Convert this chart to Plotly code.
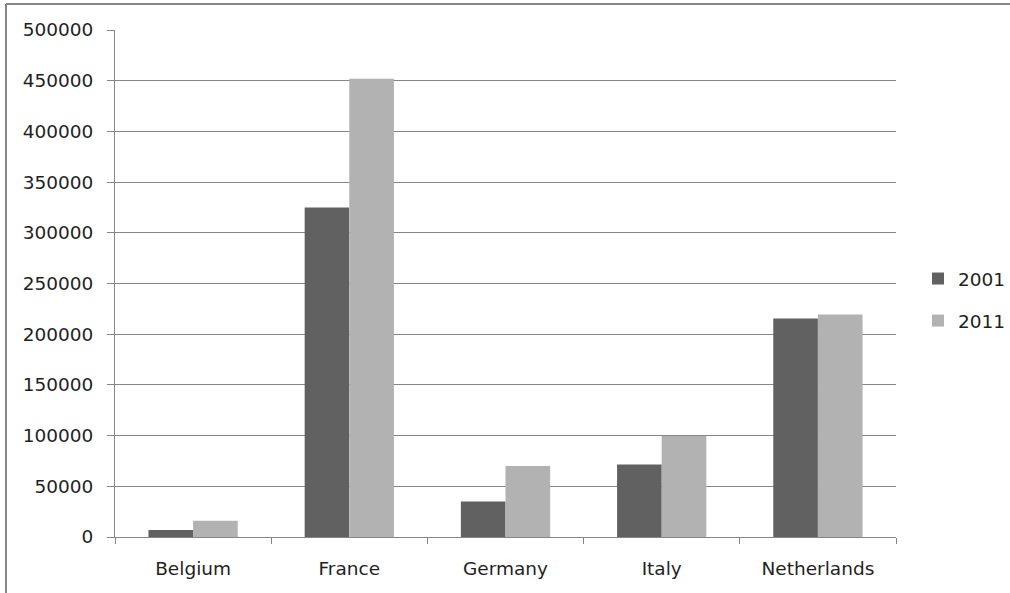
import plotly.graph_objects as go

categories = ["Belgium", "France", "Germany", "Italy", "Netherlands"]
series_names = ["2001", "2011"]
values_2001 = [7000, 325000, 35000, 71500, 215500]
values_2011 = [16000, 452000, 70000, 99500, 219500]
y_ticks = [0, 50000, 100000, 150000, 200000, 250000, 300000, 350000, 400000, 450000, 500000]

colors = ["#616161", "#b2b2b2"]
FONT = "DejaVu Sans"
FS = 18.5

fig = go.Figure()
for name, vals, col in zip(series_names, [values_2001, values_2011], colors):
    fig.add_trace(go.Bar(
        x=categories, y=vals, name=name, legendgroup=name,
        marker=dict(color=col, line=dict(width=0)),
    ))

W, H = 1010, 593
L, R, T, B = 115, 114, 30, 56
pw = W - L - R
ph = H - T - B

bx = (6 - L) / pw
by = (H - B - 4) / ph
border = dict(type="line", xref="paper", yref="paper",
              line=dict(color="#868686", width=2), layer="above")

fig.update_layout(
    width=W, height=H,
    margin=dict(l=L, r=R, t=T, b=B, autoexpand=False),
    paper_bgcolor="white", plot_bgcolor="white",
    barmode="group", bargap=0.4286, bargroupgap=0,
    font=dict(family=FONT, size=FS, color="#1f1f1f"),
    showlegend=True,
    legend=dict(
        x=(918 - L) / pw, xanchor="left",
        y=(H - B - 260) / ph, yanchor="top",
        traceorder="grouped", tracegroupgap=15,
        font=dict(family=FONT, size=FS, color="#1f1f1f"),
        bgcolor="rgba(0,0,0,0)",
    ),
    xaxis=dict(
        showline=True, linecolor="#868686", linewidth=1,
        ticks="outside", tickson="boundaries", ticklen=6, tickcolor="#868686",
        showgrid=False, zeroline=False, ticklabelstandoff=15,
    ),
    yaxis=dict(
        range=[0, 500000], tickvals=y_ticks,
        ticktext=[str(v) for v in y_ticks],
        showline=True, linecolor="#868686", linewidth=1,
        ticks="outside", ticklen=7, tickcolor="#868686",
        showgrid=True, gridcolor="#868686", gridwidth=1,
        zeroline=False, ticklabelstandoff=10,
    ),
    shapes=[
        dict(border, x0=bx, x1=(W - L) / pw, y0=by, y1=by),
        dict(border, x0=bx, x1=bx, y0=by, y1=-B / ph),
    ],
)

fig.write_html(
    "out.html", config={"displayModeBar": False},
    post_script=(
        "document.body.style.margin='0';"
        "document.body.style.overflow='hidden';"
        "document.documentElement.style.overflow='hidden';"
    ),
)
